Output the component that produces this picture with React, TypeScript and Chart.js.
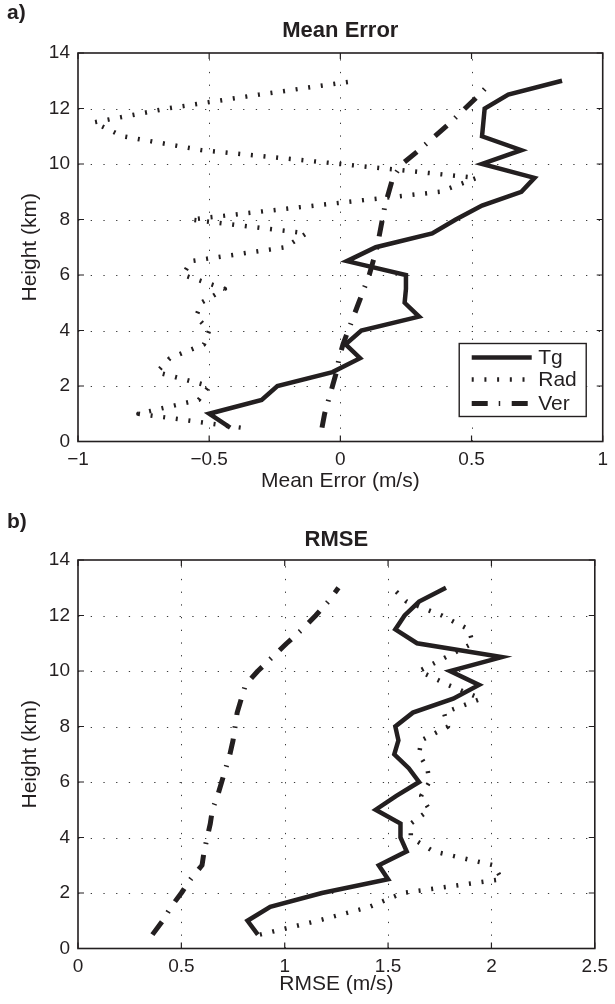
import React, { useEffect, useRef } from 'react';
import { Chart, registerables } from 'chart.js';

Chart.register(...registerables);

// ---------- data ----------
const heights = [0.5, 1, 1.5, 2, 2.5, 3, 3.5, 4, 4.5, 5, 5.5, 6, 6.5, 7, 7.5, 8, 8.5, 9, 9.5, 10, 10.5, 11, 11.5, 12, 12.5, 13];

const meanTg = [-0.42, -0.5, -0.3, -0.24, -0.03, 0.075, 0.02, 0.08, 0.3, 0.245, 0.25, 0.25, 0.025, 0.135, 0.35, 0.44, 0.54, 0.69, 0.74, 0.54, 0.69, 0.54, 0.545, 0.55, 0.64, 0.845];
const meanRad = [-0.38, -0.77, -0.54, -0.5, -0.7, -0.65, -0.52, -0.5, -0.55, -0.53, -0.44, -0.6, -0.57, -0.21, -0.13, -0.57, -0.1, 0.38, 0.52, 0.0, -0.53, -0.83, -0.94, -0.66, -0.31, 0.06];
const meanVer = [-0.07, -0.06, -0.045, -0.03, -0.015, -0.005, 0.01, 0.03, 0.05, 0.07, 0.09, 0.11, 0.125, 0.14, 0.15, 0.16, 0.17, 0.185, 0.2, 0.235, 0.3, 0.36, 0.42, 0.475, 0.53, 0.58];

const rmseTg = [0.87, 0.82, 0.93, 1.18, 1.5, 1.455, 1.59, 1.56, 1.56, 1.44, 1.54, 1.65, 1.6, 1.53, 1.55, 1.535, 1.62, 1.815, 1.94, 1.8, 2.05, 1.64, 1.535, 1.58, 1.65, 1.78];
const rmseRad = [0.88, 1.16, 1.41, 1.57, 2.05, 2.01, 1.72, 1.61, 1.61, 1.7, 1.66, 1.7, 1.69, 1.65, 1.66, 1.79, 1.77, 1.95, 1.79, 1.65, 1.78, 1.91, 1.89, 1.76, 1.59, 1.52];
const rmseVer = [0.36, 0.41, 0.45, 0.5, 0.545, 0.6, 0.61, 0.625, 0.64, 0.65, 0.675, 0.695, 0.715, 0.735, 0.75, 0.76, 0.77, 0.79, 0.81, 0.87, 0.94, 1.01, 1.085, 1.15, 1.21, 1.26];

const seriesNames = ['Tg', 'Rad', 'Ver'];
const heightTicks = { min: 0, max: 14, step: 2 };
const meanTicks = { min: -1, max: 1, step: 0.5 };
const rmseTicks = { min: 0, max: 2.5, step: 0.5 };

// ---------- style ----------
const INK = '#231f20';
const FONT = '"Liberation Sans", Arial, Helvetica, sans-serif';
const STYLES = [
  { width: 4.5, dash: [] as number[], join: 'miter' },
  { width: 4.5, dash: [2, 10.7], join: 'round' },
  { width: 5, dash: [16, 11, 1.5, 11.5], join: 'round' },
];

function toPoints(xs: number[]) {
  return xs.map((v, i) => ({ x: v, y: heights[i] }));
}

function makeDecor(meta: any) {
  return {
    id: 'panelDecor',
    beforeDatasetsDraw(chart: any) {
      const { ctx, chartArea } = chart;
      const { left, right, top, bottom } = chartArea;
      const xs = chart.scales.x;
      const ys = chart.scales.y;
      ctx.save();
      ctx.strokeStyle = '#3a3a3a';
      ctx.lineWidth = 1;
      ctx.setLineDash([1.3, 11.4]);
      xs.ticks.forEach((t: any) => {
        const px = Math.round(xs.getPixelForValue(t.value)) + 0.5;
        if (px <= left + 1 || px >= right - 1) return;
        ctx.beginPath();
        ctx.moveTo(px, bottom);
        ctx.lineTo(px, top);
        ctx.stroke();
      });
      ys.ticks.forEach((t: any) => {
        const py = Math.round(ys.getPixelForValue(t.value)) + 0.5;
        if (py <= top + 1 || py >= bottom - 1) return;
        ctx.beginPath();
        ctx.moveTo(left, py);
        ctx.lineTo(right, py);
        ctx.stroke();
      });
      ctx.restore();
    },
    afterDraw(chart: any) {
      const { ctx, chartArea } = chart;
      const { left, right, top, bottom } = chartArea;
      const xs = chart.scales.x;
      const ys = chart.scales.y;
      ctx.save();
      // frame
      ctx.strokeStyle = INK;
      ctx.lineWidth = 1.6;
      ctx.setLineDash([]);
      ctx.strokeRect(left, top, right - left, bottom - top);
      // inward ticks
      const tl = 6;
      ctx.lineWidth = 1.2;
      ctx.beginPath();
      xs.ticks.forEach((t: any) => {
        const px = xs.getPixelForValue(t.value);
        ctx.moveTo(px, bottom);
        ctx.lineTo(px, bottom - tl);
        ctx.moveTo(px, top);
        ctx.lineTo(px, top + tl);
      });
      ys.ticks.forEach((t: any) => {
        const py = ys.getPixelForValue(t.value);
        ctx.moveTo(left, py);
        ctx.lineTo(left + tl, py);
        ctx.moveTo(right, py);
        ctx.lineTo(right - tl, py);
      });
      ctx.stroke();

      // texts
      ctx.fillStyle = INK;
      ctx.textBaseline = 'middle';
      ctx.textAlign = 'left';
      ctx.font = `bold 21px ${FONT}`;
      ctx.fillText(meta.label, 7, meta.labelY);
      ctx.textAlign = 'center';
      ctx.font = `bold 22px ${FONT}`;
      ctx.fillText(meta.title, (left + right) / 2, meta.titleY);
      ctx.font = `21px ${FONT}`;
      ctx.fillText(meta.xTitle, (left + right) / 2, meta.xTitleY);
      ctx.save();
      ctx.translate(meta.yTitleX, (top + bottom) / 2);
      ctx.rotate(-Math.PI / 2);
      ctx.fillText(meta.yTitle, 0, 0);
      ctx.restore();

      // legend
      if (meta.legend) {
        const bw = 127;
        const bh = 73;
        const bx = right - 16.5 - bw;
        const by = bottom - 25 - bh;
        ctx.fillStyle = '#ffffff';
        ctx.fillRect(bx, by, bw, bh);
        ctx.strokeStyle = INK;
        ctx.lineWidth = 1.4;
        ctx.strokeRect(bx, by, bw, bh);
        const rows = [14, 36, 60];
        seriesNames.forEach((name, i) => {
          const ry = by + rows[i];
          ctx.strokeStyle = INK;
          ctx.lineWidth = STYLES[i].width;
          ctx.lineCap = 'butt';
          ctx.setLineDash(STYLES[i].dash);
          ctx.beginPath();
          ctx.moveTo(bx + 12.5, ry);
          ctx.lineTo(bx + 72.5, ry);
          ctx.stroke();
          ctx.setLineDash([]);
          ctx.fillStyle = INK;
          ctx.textAlign = 'left';
          ctx.font = `21px ${FONT}`;
          ctx.fillText(name, bx + 79, ry + 1);
        });
      }
      ctx.restore();
    },
  };
}

function buildConfig(values: number[][], xt: any, meta: any, xHeight: number, padRight: number, padTop: number) {
  const datasets = values.map((vals, i) => ({
    label: seriesNames[i],
    data: toPoints(vals),
    showLine: true,
    borderColor: INK,
    backgroundColor: INK,
    borderWidth: STYLES[i].width,
    borderDash: STYLES[i].dash,
    borderCapStyle: 'butt',
    borderJoinStyle: STYLES[i].join,
    pointRadius: 0,
    tension: 0,
    fill: false,
  }));
  return {
    type: 'scatter',
    data: { datasets },
    options: {
      responsive: false,
      animation: false,
      devicePixelRatio: 1,
      layout: { padding: { top: padTop, right: padRight, left: 0, bottom: 0 } },
      plugins: { legend: { display: false }, tooltip: { enabled: false }, title: { display: false } },
      scales: {
        x: {
          type: 'linear',
          min: xt.min,
          max: xt.max,
          afterFit: (s: any) => { s.height = xHeight; },
          afterBuildTicks: (s: any) => {
            const ticks = [];
            for (let v = xt.min; v <= xt.max + 1e-9; v += xt.step) ticks.push({ value: Math.round(v * 100) / 100 });
            s.ticks = ticks;
          },
          grid: { display: false, drawTicks: false },
          border: { display: false },
          ticks: {
            color: INK,
            padding: 7,
            maxRotation: 0,
            font: { family: FONT, size: 19 },
            callback: (v: any) => String(v).replace('-', '\u2212'),
          },
        },
        y: {
          type: 'linear',
          min: heightTicks.min,
          max: heightTicks.max,
          afterFit: (s: any) => { s.width = 78; },
          afterBuildTicks: (s: any) => {
            const ticks = [];
            for (let v = heightTicks.min; v <= heightTicks.max; v += heightTicks.step) ticks.push({ value: v });
            s.ticks = ticks;
          },
          grid: { display: false, drawTicks: false },
          border: { display: false },
          ticks: {
            color: INK,
            padding: 8,
            font: { family: FONT, size: 19 },
          },
        },
      },
    },
    plugins: [makeDecor(meta)],
  };
}

export default function App() {
  const topRef = useRef<HTMLCanvasElement>(null);
  const botRef = useRef<HTMLCanvasElement>(null);

  useEffect(() => {
    const c1 = new Chart(
      topRef.current as HTMLCanvasElement,
      buildConfig(
        [meanTg, meanRad, meanVer],
        meanTicks,
        { label: 'a)', labelY: 13, title: 'Mean Error', titleY: 31, xTitle: 'Mean Error (m/s)', xTitleY: 481, yTitle: 'Height (km)', yTitleX: 30, legend: true },
        58.5,
        6,
        53
      ) as any
    );
    const c2 = new Chart(
      botRef.current as HTMLCanvasElement,
      buildConfig(
        [rmseTg, rmseRad, rmseVer],
        rmseTicks,
        { label: 'b)', labelY: 22, title: 'RMSE', titleY: 40, xTitle: 'RMSE (m/s)', xTitleY: 484, yTitle: 'Height (km)', yTitleX: 30, legend: false },
        55.5,
        14.3,
        60
      ) as any
    );
    return () => {
      c1.destroy();
      c2.destroy();
    };
  }, []);

  return (
    <div style={{ position: 'absolute', left: 0, top: 0, width: 615, height: 1004, background: '#ffffff' }}>
      <canvas ref={topRef} width={615} height={500} style={{ position: 'absolute', left: 0, top: 0, width: 615, height: 500 }} />
      <canvas ref={botRef} width={615} height={504} style={{ position: 'absolute', left: 0, top: 500, width: 615, height: 504 }} />
    </div>
  );
}
